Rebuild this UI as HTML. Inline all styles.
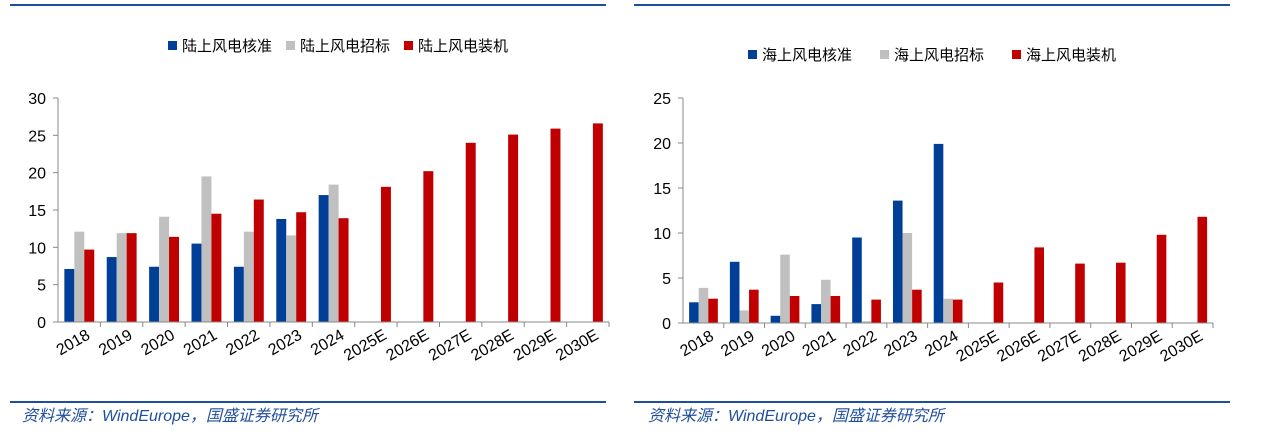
<!DOCTYPE html>
<html><head><meta charset="utf-8">
<style>
body{margin:0;width:1268px;height:438px;background:#fff;overflow:hidden;font-family:"Liberation Sans","Noto Sans CJK SC",sans-serif;}
svg{position:absolute;left:0;top:0;}
text{font-family:"Liberation Sans","Noto Sans CJK SC",sans-serif;}
</style></head>
<body>
<svg id="s" width="1268" height="438">
<line x1="10" y1="5" x2="606" y2="5" stroke="#1f4e9c" stroke-width="2"/>
<line x1="634" y1="5" x2="1230" y2="5" stroke="#1f4e9c" stroke-width="2"/>
<line x1="10" y1="402" x2="606" y2="402" stroke="#1f4e9c" stroke-width="2"/>
<line x1="634" y1="402" x2="1230" y2="402" stroke="#1f4e9c" stroke-width="2"/>
<text x="22" y="421" font-size="16" font-style="italic" fill="#1f4e9c">资料来源：WindEurope，国盛证券研究所</text>
<text x="648" y="421" font-size="16" font-style="italic" fill="#1f4e9c">资料来源：WindEurope，国盛证券研究所</text>
</svg>
<script>
const categories=["2018","2019","2020","2021","2022","2023","2024","2025E","2026E","2027E","2028E","2029E","2030E"];
const onshoreApproved=[7.1,8.7,7.4,10.5,7.4,13.8,17.0];
const onshoreTendered=[12.1,11.9,14.1,19.5,12.1,11.6,18.4];
const onshoreInstalled=[9.7,11.9,11.4,14.5,16.4,14.7,13.9,18.1,20.2,24.0,25.1,25.9,26.6];
const onshoreTicks=[0,5,10,15,20,25,30];
const offshoreApproved=[2.3,6.8,0.8,2.1,9.5,13.6,19.9];
const offshoreTendered=[3.9,1.4,7.6,4.8,0.2,10.0,2.7];
const offshoreInstalled=[2.7,3.7,3.0,3.0,2.6,3.7,2.6,4.5,8.4,6.6,6.7,9.8,11.8];
const offshoreTicks=[0,5,10,15,20,25];
const seriesColors=["#003f98","#c0c0c0","#c00000"];
const NS="http://www.w3.org/2000/svg";
const svg=document.getElementById('s');
function mk(tag,attrs,parent){const e=document.createElementNS(NS,tag);for(const k in attrs)e.setAttribute(k,attrs[k]);(parent||svg).appendChild(e);return e;}
function chart(prefix,cfg,series,ticks,legendNames){
  const g=mk('g',{});
  
  
  const max=ticks[ticks.length-1];
  const y=v=>cfg.y0-(v/max)*(cfg.y0-cfg.yTop);
  const cw=(cfg.x1-cfg.x0)/categories.length;
  const xc=i=>cfg.x0+cw*i;
  const bw=cw*0.235;
  ticks.forEach(t=>{
    const l=mk('line',{x1:cfg.x0-5,x2:cfg.x0,y1:y(t),y2:y(t),stroke:'#888'},g);
    
    
    const tx=mk('text',{x:cfg.x0-12,y:y(t)+6,'font-size':16,'text-anchor':'end',fill:'#000'},g);
    tx.textContent=t;
    
    
  });
  series.forEach((arr,s)=>{
    arr.forEach((v,i)=>{
      const bx=xc(i)+cw*0.15+s*bw;
      const r=mk('rect',{x:bx,y:y(v),width:bw,height:cfg.y0-y(v),fill:seriesColors[s]},g);
      
      
    });
  });
  const ya=mk('line',{x1:cfg.x0,x2:cfg.x0,y1:cfg.yTop,y2:cfg.y0,stroke:'#888'},g);
  
  
  const xa=mk('line',{x1:cfg.x0,x2:cfg.x1,y1:cfg.y0,y2:cfg.y0,stroke:'#888'},g);
  
  
  categories.forEach((c,i)=>{
    const l=mk('line',{x1:xc(i+1),x2:xc(i+1),y1:cfg.y0,y2:cfg.y0+5,stroke:'#888'},g);
    
    
    const cx=xc(i)+cw*0.78, cy=cfg.y0+16;
    const t=mk('text',{x:cx,y:cy,'font-size':16,'text-anchor':'end',transform:`rotate(-30 ${cx} ${cy})`,fill:'#000'},g);
    t.textContent=c;
    
    
  });
  let lx=cfg.lx;
  legendNames.forEach((n,s)=>{
    const r=mk('rect',{x:lx,y:cfg.ly-10,width:9,height:9,fill:seriesColors[s]},g);
    
    
    const t=mk('text',{x:lx+14,y:cfg.ly,'font-size':15,fill:'#000'},g);
    t.textContent=n;
    
    
    lx+=cfg.lstep;
  });
}
chart('onshore',{x0:58,x1:609,y0:322,yTop:98,lx:168,ly:51,lstep:118},[onshoreApproved,onshoreTendered,onshoreInstalled],onshoreTicks,["陆上风电核准","陆上风电招标","陆上风电装机"]);
chart('offshore',{x0:683,x1:1213,y0:323,yTop:98,lx:748,ly:60,lstep:132},[offshoreApproved,offshoreTendered,offshoreInstalled],offshoreTicks,["海上风电核准","海上风电招标","海上风电装机"]);
</script>
</body></html>
